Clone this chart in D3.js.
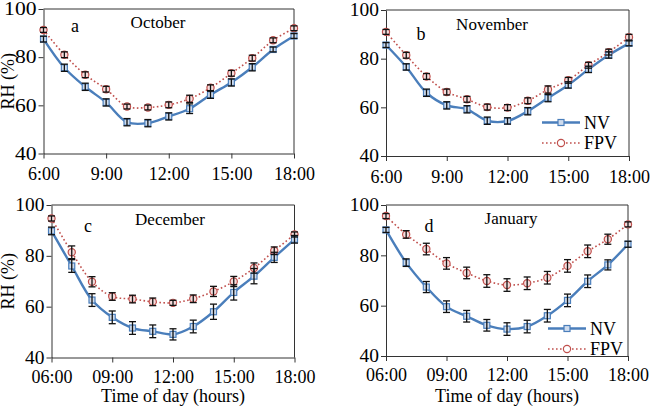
<!DOCTYPE html>
<html>
<head>
<meta charset="utf-8">
<script src="https://cdn.jsdelivr.net/npm/d3@7"></script>
<style>
  body { margin: 0; background: #fff; }
  svg text { font-family: "Liberation Serif", "DejaVu Serif", serif; fill: #000; }
</style>
</head>
<body>
<svg id="Vis" width="654" height="407"></svg>
<script>
/* DATA */
const hours = [6, 7, 8, 9, 10, 11, 12, 13, 14, 15, 16, 17, 18];
const yTicks = [40, 60, 80, 100];
const xTicks = [6, 9, 12, 15, 18];
const seriesNames = ["NV", "FPV"];

const octNV = [87.5, 75.6, 67.7, 61.2, 53.0, 52.6, 55.4, 58.6, 64.4, 69.5, 75.8, 83.2, 88.8];
const octFPV = [91.3, 81.0, 72.7, 66.7, 59.5, 59.1, 60.2, 62.7, 67.3, 73.3, 79.6, 87.0, 92.0];
const octNVErr = [1.2, 1.5, 1.5, 1.5, 1.5, 1.5, 1.5, 2.0, 1.5, 1.5, 1.5, 1.0, 1.0];
const octFPVErr = [1.0, 1.2, 1.2, 1.2, 1.0, 1.0, 1.2, 1.5, 1.2, 1.2, 1.2, 1.0, 1.0];

const novNV = [85.6, 76.6, 66.0, 60.8, 59.2, 54.5, 54.4, 58.4, 63.8, 69.2, 75.6, 81.5, 86.3];
const novFPV = [91.0, 81.4, 72.7, 66.3, 63.3, 60.1, 59.9, 62.7, 67.3, 71.1, 77.3, 82.7, 88.8];
const novNVErr = [1.0, 1.3, 1.5, 1.5, 1.5, 1.5, 1.3, 1.5, 1.5, 1.3, 1.3, 1.3, 1.0];
const novFPVErr = [1.0, 1.2, 1.2, 1.2, 1.2, 1.2, 1.2, 1.2, 1.5, 1.2, 1.2, 1.2, 1.2];

const decNV = [89.8, 76.0, 62.6, 55.8, 51.6, 50.3, 49.1, 52.2, 58.0, 65.6, 72.0, 79.4, 86.5];
const decFPV = [94.7, 81.4, 69.8, 64.0, 63.0, 61.9, 61.5, 63.1, 66.0, 69.9, 75.2, 82.0, 88.4];
const decNVErr = [1.5, 2.5, 2.5, 2.5, 2.5, 2.5, 2.2, 2.5, 3.0, 3.0, 3.0, 2.0, 1.5];
const decFPVErr = [1.0, 2.5, 2.0, 1.5, 1.5, 1.5, 1.0, 1.5, 2.0, 2.0, 2.0, 1.5, 1.0];

const janNV = [90.1, 77.1, 67.4, 59.6, 55.8, 52.2, 50.7, 51.7, 56.0, 62.1, 69.7, 76.2, 84.4];
const janFPV = [95.6, 88.3, 82.5, 76.8, 73.0, 69.8, 68.2, 68.9, 71.1, 75.8, 81.6, 86.4, 92.3];
const janNVErr = [1.0, 1.5, 2.2, 2.3, 2.3, 2.3, 2.5, 2.5, 2.5, 2.5, 2.5, 2.0, 1.2];
const janFPVErr = [1.0, 1.5, 2.3, 2.3, 2.3, 2.5, 2.5, 2.5, 2.5, 2.5, 2.5, 2.0, 1.0];

/* PANEL LAYOUT */
const panels = [
  { id: "a", title: "October",  nv: octNV, fpv: octFPV, nvErr: octNVErr, fpvErr: octFPVErr,
    left: 43.5, right: 294, top: 9, bottom: 153.5, pad: false, ylabel: true, xlabel: false,
    stretch: 1.2, letter: [75, 32], titleAt: [158, 28], legend: null },
  { id: "b", title: "November", nv: novNV, fpv: novFPV, nvErr: novNVErr, fpvErr: novFPVErr,
    left: 386, right: 629, top: 10, bottom: 156, pad: false, ylabel: false, xlabel: false,
    stretch: 1.08, letter: [421, 40], titleAt: [492, 30], legend: [542, 122.5] },
  { id: "c", title: "December", nv: decNV, fpv: decFPV, nvErr: decNVErr, fpvErr: decFPVErr,
    left: 51.5, right: 294.5, top: 205, bottom: 357.5, pad: true, ylabel: true, xlabel: true,
    stretch: 1.08, letter: [88, 232], titleAt: [170, 225], legend: null },
  { id: "d", title: "January",  nv: janNV, fpv: janFPV, nvErr: janNVErr, fpvErr: janFPVErr,
    left: 386, right: 628, top: 205, bottom: 356, pad: true, ylabel: false, xlabel: true,
    stretch: 1.08, letter: [429, 232], titleAt: [511, 224], legend: [548, 328.5] }
];

const blue = "#4a7ebb";
const red = "#c0504d";
const fontSize = 18;

const svg = d3.select("svg#Vis");

panels.forEach(drawPanel);

function drawPanel(p) {
  const g = svg.append("g").attr("id", "panel-" + p.id);

  const xScale = d3.scaleLinear().domain([6, 18]).range([p.left, p.right]);
  const yScale = d3.scaleLinear().domain([40, 100]).range([p.bottom, p.top]);

  /* AXES */
  const fmt = h => (p.pad ? String(h).padStart(2, "0") : String(h)) + ":00";

  const xAxis = d3.axisBottom(xScale).tickValues(xTicks).tickFormat(fmt)
    .tickSizeInner(5).tickSizeOuter(0).tickPadding(p.xlabel ? 7.5 : 9);
  const yAxis = d3.axisLeft(yScale).tickValues(yTicks)
    .tickSizeInner(5).tickSizeOuter(0).tickPadding(2);

  const xg = g.append("g").attr("transform", "translate(0," + p.bottom + ")").call(xAxis);
  const yg = g.append("g").attr("transform", "translate(" + p.left + ",0)").call(yAxis);

  [xg, yg].forEach(a => {
    a.select(".domain").attr("stroke", "#333").attr("stroke-width", 1);
    a.selectAll(".tick line").attr("stroke", "#333");
    a.selectAll(".tick text").style("font-size", fontSize + "px")
      .style("font-family", "'Liberation Serif', serif").attr("fill", "#000");
  });

  // y tick labels are a little wider in the source figure
  yg.selectAll(".tick text")
    .attr("x", 0)
    .attr("transform", "translate(-7,0) scale(" + p.stretch + ",1)");

  // top and right frame
  g.append("path")
    .attr("d", "M" + p.left + "," + p.top + "H" + p.right + "V" + p.bottom)
    .attr("fill", "none").attr("stroke", "#333").attr("stroke-width", 1);

  /* SERIES */
  const line = d3.line()
    .x((d, i) => xScale(hours[i]))
    .y(d => yScale(d))
    .curve(d3.curveCatmullRom.alpha(0.5));

  g.append("path").datum(p.fpv).attr("d", line)
    .attr("fill", "none").attr("stroke", red).attr("stroke-width", 1.6)
    .attr("stroke-dasharray", "1.6,2.4");

  g.append("path").datum(p.nv).attr("d", line)
    .attr("fill", "none").attr("stroke", blue).attr("stroke-width", 2.4);

  // markers
  g.append("g").selectAll("circle").data(p.fpv).join("circle")
    .attr("cx", (d, i) => xScale(hours[i]))
    .attr("cy", d => yScale(d))
    .attr("r", 3.6)
    .attr("fill", "#f4dcdc").attr("stroke", red).attr("stroke-width", 1.2);

  g.append("g").selectAll("rect").data(p.nv).join("rect")
    .attr("x", (d, i) => xScale(hours[i]) - 3)
    .attr("y", d => yScale(d) - 3)
    .attr("width", 6).attr("height", 6)
    .attr("fill", "#cfdcee").attr("stroke", blue).attr("stroke-width", 1.2);

  // error bars
  drawErrors(g, p.fpv, p.fpvErr, xScale, yScale);
  drawErrors(g, p.nv, p.nvErr, xScale, yScale);

  /* LABELS */
  g.append("text").attr("x", p.letter[0]).attr("y", p.letter[1])
    .attr("text-anchor", "middle").style("font-size", fontSize + "px").text(p.id);

  g.append("text").attr("x", p.titleAt[0]).attr("y", p.titleAt[1])
    .attr("text-anchor", "middle").style("font-size", "17px").text(p.title);

  if (p.ylabel) {
    const cy = (p.top + p.bottom) / 2;
    g.append("text")
      .attr("transform", "translate(14," + cy + ") rotate(-90)")
      .attr("text-anchor", "middle").style("font-size", fontSize + "px")
      .text("RH (%)");
  }

  if (p.xlabel) {
    g.append("text").attr("x", (p.left + p.right) / 2).attr("y", 402)
      .attr("text-anchor", "middle").style("font-size", fontSize + "px")
      .text("Time of day (hours)");
  }

  if (p.legend) drawLegend(g, p.legend[0], p.legend[1]);
}

function drawErrors(g, values, errs, xScale, yScale) {
  const grp = g.append("g").attr("stroke", "#111").attr("stroke-width", 1.3);
  values.forEach((v, i) => {
    const x = xScale(hours[i]);
    const y0 = yScale(v - errs[i]);
    const y1 = yScale(v + errs[i]);
    grp.append("line").attr("x1", x).attr("x2", x).attr("y1", y0).attr("y2", y1);
    grp.append("line").attr("x1", x - 3.5).attr("x2", x + 3.5).attr("y1", y0).attr("y2", y0);
    grp.append("line").attr("x1", x - 3.5).attr("x2", x + 3.5).attr("y1", y1).attr("y2", y1);
  });
}

function drawLegend(g, x, y) {
  const len = 38;
  const gap = 20.5;
  // NV
  g.append("line").attr("x1", x).attr("x2", x + len).attr("y1", y).attr("y2", y)
    .attr("stroke", blue).attr("stroke-width", 2.4);
  g.append("rect").attr("x", x + len / 2 - 3).attr("y", y - 3).attr("width", 6).attr("height", 6)
    .attr("fill", "#cfdcee").attr("stroke", blue).attr("stroke-width", 1.2);
  g.append("text").attr("x", x + len + 4).attr("y", y + 6)
    .style("font-size", fontSize + "px").text(seriesNames[0]);
  // FPV
  g.append("line").attr("x1", x).attr("x2", x + len).attr("y1", y + gap).attr("y2", y + gap)
    .attr("stroke", red).attr("stroke-width", 1.6).attr("stroke-dasharray", "1.6,2.4");
  g.append("circle").attr("cx", x + len / 2).attr("cy", y + gap).attr("r", 3.6)
    .attr("fill", "#fff").attr("stroke", red).attr("stroke-width", 1.2);
  g.append("text").attr("x", x + len + 4).attr("y", y + gap + 6)
    .style("font-size", fontSize + "px").text(seriesNames[1]);
}
</script>
</body>
</html>
